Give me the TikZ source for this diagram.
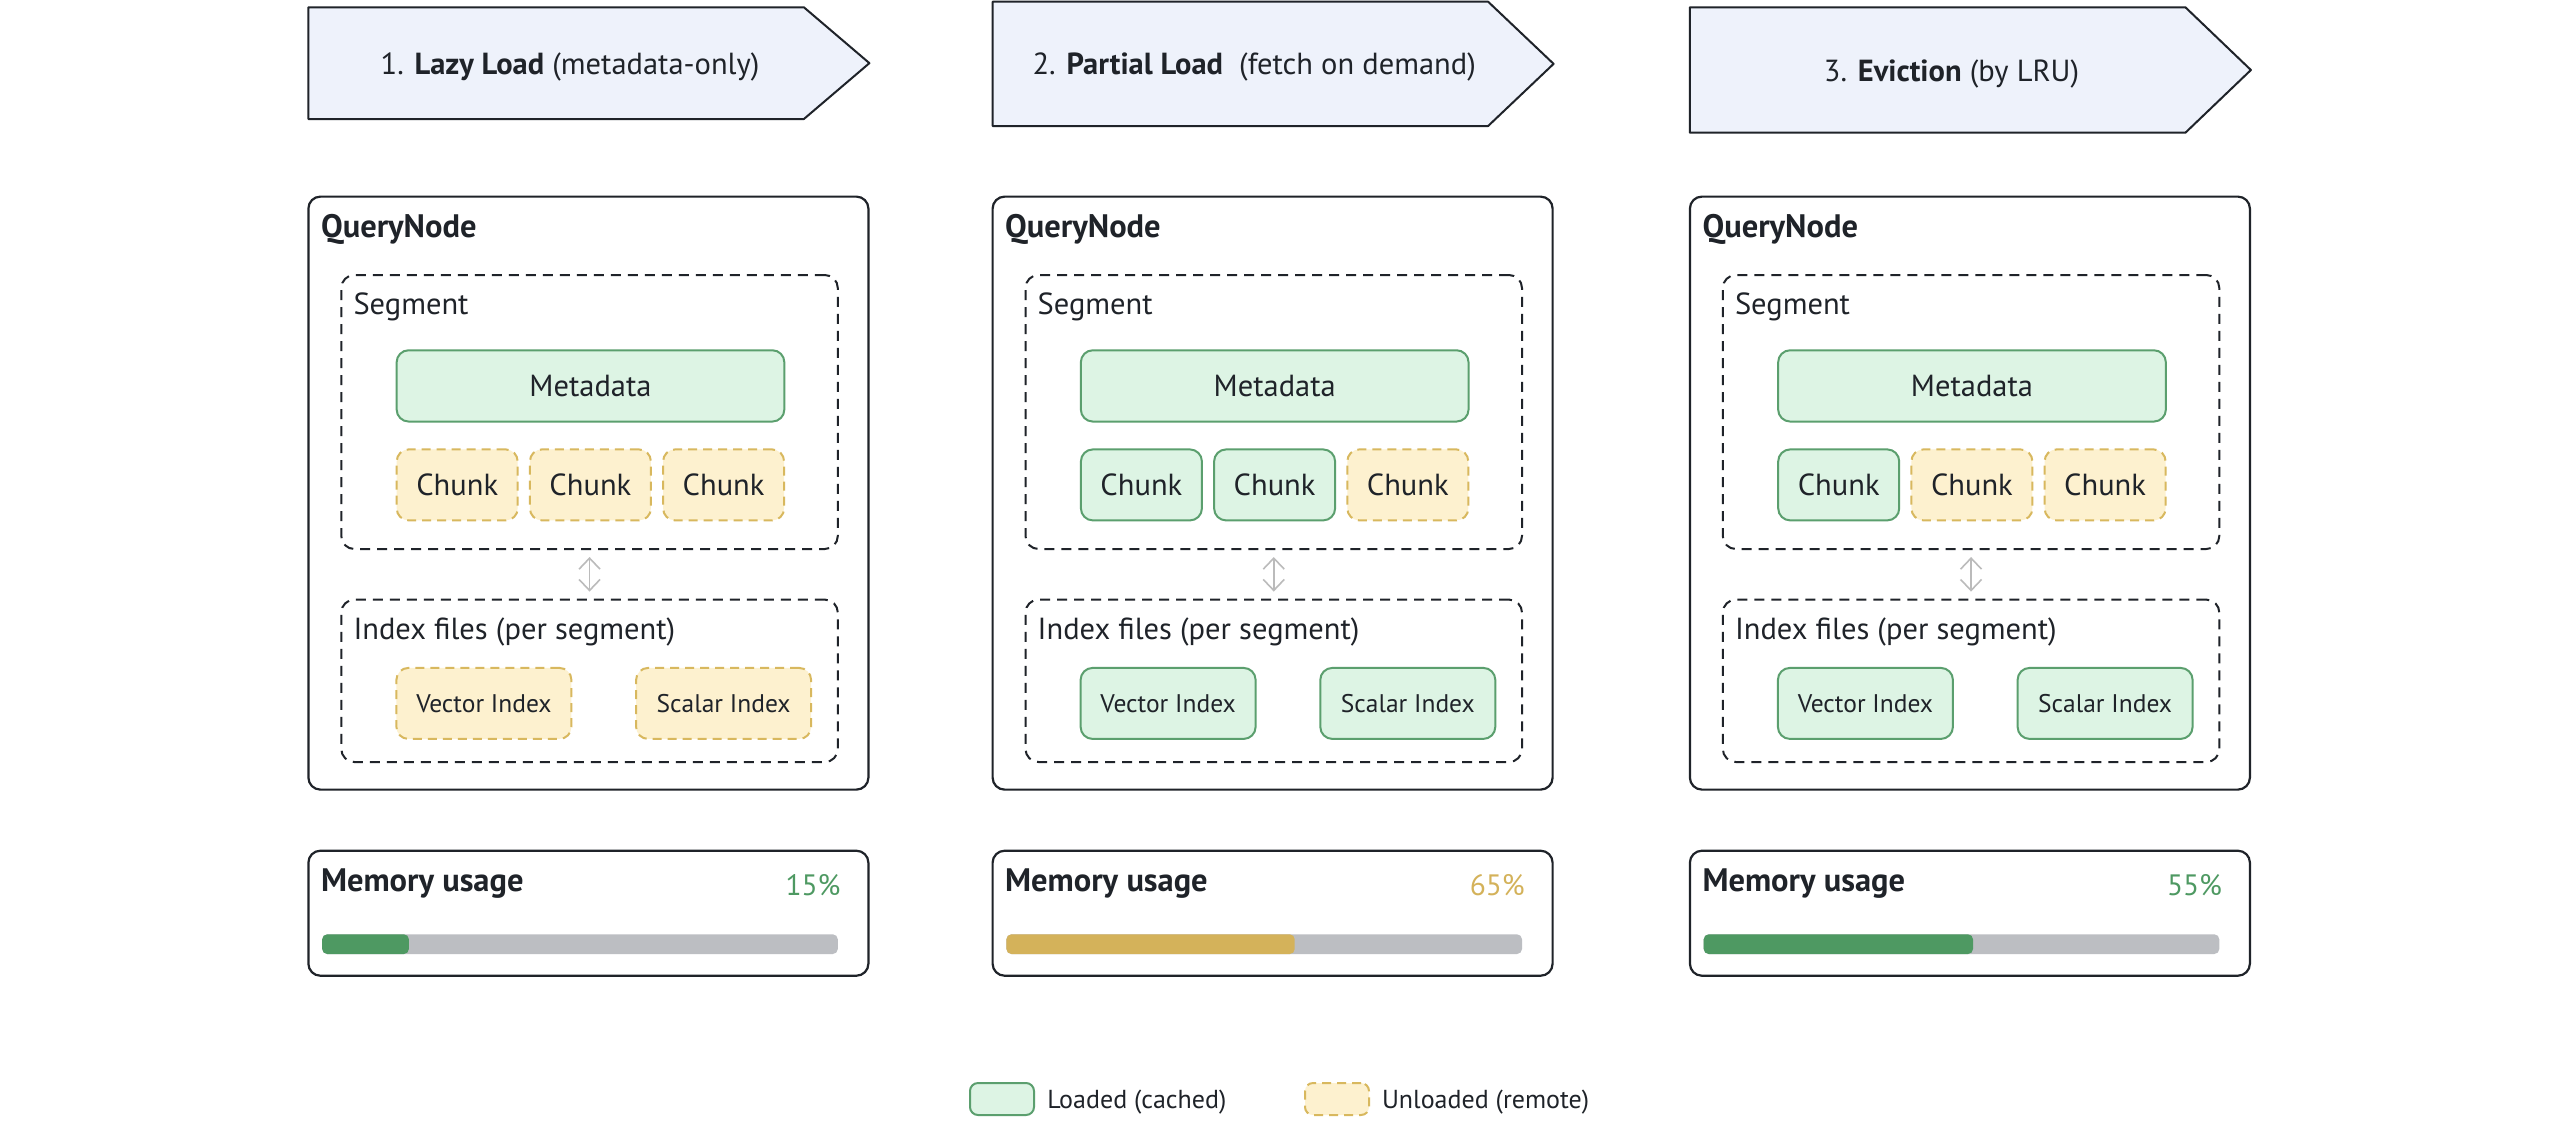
\documentclass[tikz,border=0pt]{standalone}
\usepackage{fontspec}
\setmainfont{PT Sans}
\usetikzlibrary{arrows.meta}
\definecolor{txt}{HTML}{1F2329}
\definecolor{hfill}{HTML}{EEF2FB}
\definecolor{gfill}{HTML}{DDF4E4}
\definecolor{gdraw}{HTML}{5B9F6E}
\definecolor{yfill}{HTML}{FDF1CF}
\definecolor{ydraw}{HTML}{D8B85E}
\definecolor{bargray}{HTML}{BCBEC2}
\definecolor{bargreen}{HTML}{4E9962}
\definecolor{baryellow}{HTML}{D4B25A}
\definecolor{arrgray}{HTML}{BBBBBB}
\tikzset{
  every node/.style={inner sep=0pt, outer sep=0pt, text=txt},
  fhead/.style={font=\fontsize{30.5}{36}\selectfont},
  ftitle/.style={font=\fontsize{32.5}{38}\selectfont\bfseries},
  fbig/.style={font=\fontsize{30.5}{36}\selectfont},
  fpct/.style={font=\fontsize{29.5}{35}\selectfont},
  fsmall/.style={font=\fontsize{25.5}{30}\selectfont},
  flegend/.style={font=\fontsize{26}{31}\selectfont},
  hdrshape/.style={draw=txt, fill=hfill, line width=2pt, line join=round},
  qbox/.style={draw=txt, line width=2.2pt, rounded corners=12pt, anchor=north west},
  dbox/.style={draw=txt, line width=2pt, dash pattern=on 10pt off 7pt, rounded corners=13pt, anchor=north west},
  loaded/.style={draw=gdraw, fill=gfill, line width=2pt, rounded corners=12pt},
  unloaded/.style={draw=ydraw, fill=yfill, line width=2pt, dash pattern=on 9pt off 6pt, rounded corners=12pt},
  chunkbox/.style={fbig, minimum width=121pt, minimum height=71pt},
  idxbox/.style={fsmall, minimum width=175pt, minimum height=71pt},
  biarrow/.style={draw=arrgray, line width=1.6pt, {Straight Barb[length=11pt,width=21pt]}-{Straight Barb[length=11pt,width=21pt]}},
}
\begin{document}
\begin{tikzpicture}[x=1pt,y=-1pt]
\path[use as bounding box] (0,0) rectangle (2560,1120);
\fill[white] (0,0) rectangle (2560,1120);

\foreach \i/\cdx/\htop/\hbot/\sA/\sB/\sC/\sX/\bwid/\bcol/\pct/\htxt in {
  1/0/7.3/119/unloaded/unloaded/unloaded/unloaded/86.7/bargreen/15\%/{1. \textbf{Lazy Load} (metadata-only)},
  2/684.2/1.7/126/loaded/loaded/unloaded/loaded/288.3/baryellow/65\%/{2. \textbf{Partial Load}\hspace{8pt} (fetch on demand)},
  3/1381.5/7.3/132.7/loaded/unloaded/unloaded/loaded/269.3/bargreen/55\%/{3. \textbf{Eviction} (by LRU)}}{
  % header arrow
  \draw[hdrshape] (308.4+\cdx,\htop) -- (803.9+\cdx,\htop) -- (869.4+\cdx,{(\htop+\hbot)/2}) -- (803.9+\cdx,\hbot) -- (308.4+\cdx,\hbot) -- cycle;
  \node[fhead, anchor=base] (h\i) at (570+\cdx,{(\htop+\hbot)/2+11}) {\htxt};
  % query node
  \node[qbox, minimum width=560pt, minimum height=593pt] (q\i) at (308.4+\cdx,196.6) {};
  \node[ftitle, anchor=base west] (qt\i) at (321+\cdx,237.4) {QueryNode};
  % segment
  \node[dbox, minimum width=496.5pt, minimum height=274pt] (seg\i) at (341.3+\cdx,275) {};
  \node[fbig, anchor=base west] (segt\i) at (353.5+\cdx,314.6) {Segment};
  \node[loaded, fbig, minimum width=387.7pt, minimum height=71.3pt] (meta\i) at (590.5+\cdx,385.9) {Metadata};
  \node[\sA, chunkbox] (ca\i) at (457.2+\cdx,484.9) {Chunk};
  \node[\sB, chunkbox] (cb\i) at (590.4+\cdx,484.9) {Chunk};
  \node[\sC, chunkbox] (cc\i) at (723.6+\cdx,484.9) {Chunk};
  % index files
  \node[dbox, minimum width=496.5pt, minimum height=162.4pt] (ix\i) at (341.3+\cdx,599.6) {};
  \node[fbig, anchor=base west] (ixt\i) at (353.5+\cdx,639.2) {Index files (per segment)};
  \node[\sX, idxbox] (vi\i) at (483.9+\cdx,703.4) {Vector Index};
  \node[\sX, idxbox] (si\i) at (723.6+\cdx,703.4) {Scalar Index};
  \draw[biarrow] ([yshift=-8pt]seg\i.south) -- ([yshift=8pt]ix\i.north);
  % memory usage
  \node[qbox, minimum width=560pt, minimum height=125pt] (mem\i) at (308.4+\cdx,850.7) {};
  \node[ftitle, anchor=base west] (memt\i) at (321+\cdx,891.7) {Memory usage};
  \node[fpct, anchor=base east, text=\bcol] (pct\i) at (840.5+\cdx,895) {\pct};
  \fill[bargray, rounded corners=5pt] (322.2+\cdx,934.3) rectangle (837.8+\cdx,954);
  \fill[\bcol, rounded corners=5pt] (322.2+\cdx,934.3) rectangle (322.2+\cdx+\bwid,954);
}

% legend
\node[loaded, rounded corners=8pt, minimum width=64pt, minimum height=32pt] (lgA) at (1002,1099) {};
\node[flegend, anchor=base west] (lgAt) at (1047.3,1108) {Loaded (cached)};
\node[unloaded, rounded corners=8pt, minimum width=64pt, minimum height=32pt] (lgB) at (1337,1099) {};
\node[flegend, anchor=base west] (lgBt) at (1382,1108) {Unloaded (remote)};
\end{tikzpicture}
\end{document}
